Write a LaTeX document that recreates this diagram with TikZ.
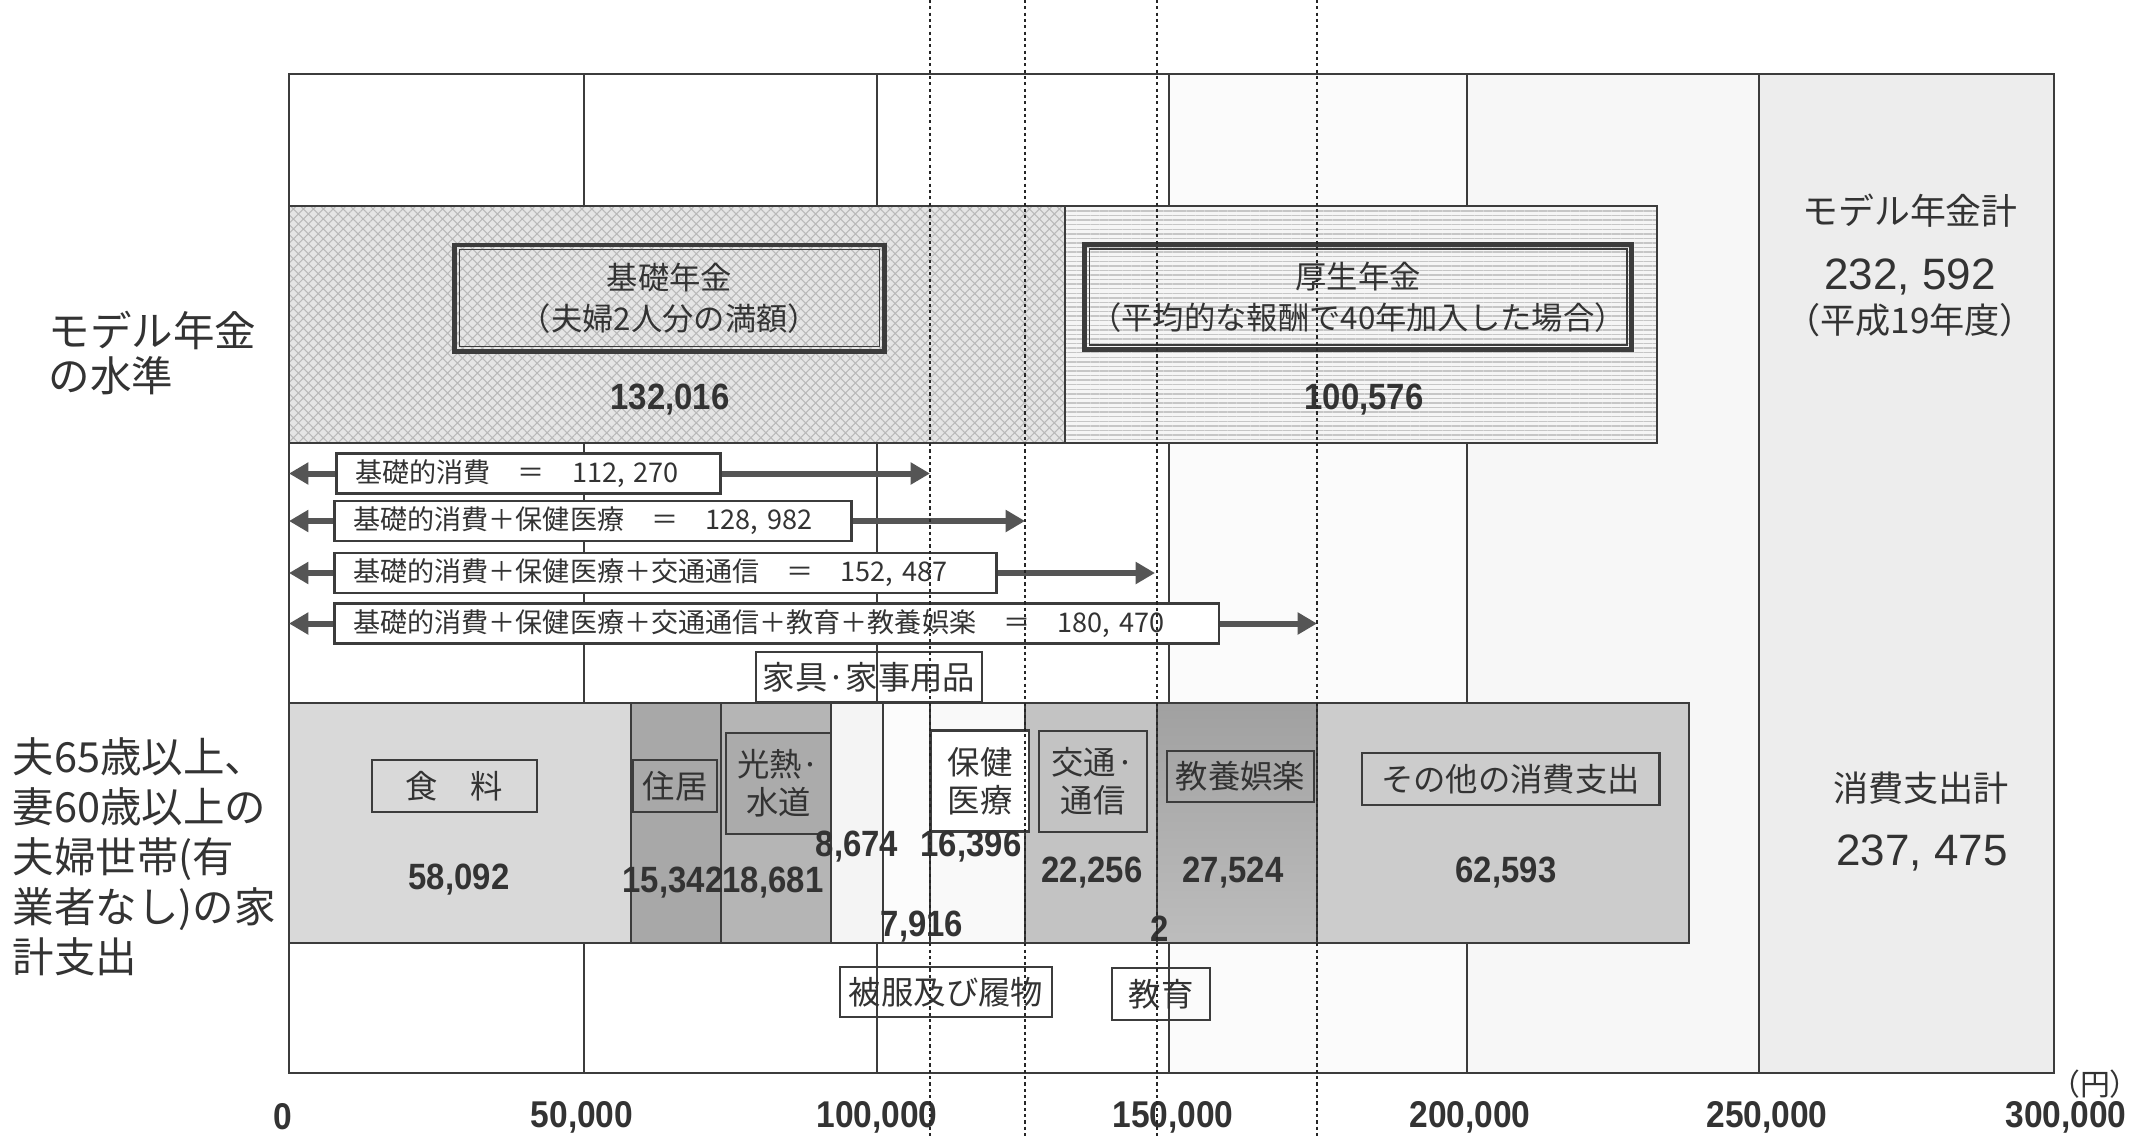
\documentclass[tikz,border=0pt]{standalone}
\usepackage{fontspec}
\setmainfont{Noto Sans CJK JP}
\newfontfamily\numfont[FakeStretch=0.9]{Liberation Sans}
\newfontfamily\latfont{Liberation Sans}
\usetikzlibrary{arrows.meta,patterns.meta}
\definecolor{ink}{HTML}{333333}
\definecolor{linec}{HTML}{3C3C3C}
\definecolor{arrc}{HTML}{555555}
\begin{document}
\begin{tikzpicture}[x=0.01cm,y=-0.01cm,
  inktxt/.style={text=ink,inner sep=0pt},
  lblbox/.style={draw=linec,line width=0.8pt,text=ink,align=center,inner sep=0pt,
     font=\fontsize{9.2}{10.8}\selectfont},
  arrbox/.style={draw=linec,line width=0.8pt,fill=white,text=ink,anchor=west,
     inner xsep=0.19cm,inner ysep=0pt,align=left,minimum height=0.4cm,
     font=\fontsize{7.7}{9}\selectfont},
  pbox/.style={draw=linec,line width=1.4pt,text=ink,align=center,inner sep=0pt,
     font=\fontsize{8.9}{11.6}\selectfont},
  numlbl/.style={text=ink,inner sep=0pt,font=\numfont\bfseries\fontsize{10.4}{12}\selectfont},
  axlbl/.style={text=ink,inner sep=0pt,font=\numfont\bfseries\fontsize{10.6}{12}\selectfont},
  conn/.style={draw=arrc,line width=1.7pt,-{Triangle[length=5.5pt,width=6pt]}},
  gridln/.style={draw=linec,line width=0.6pt},
  barbox/.style={draw=linec,line width=0.7pt},
  dotln/.style={draw=black!85,line width=0.45pt,dash pattern=on 0.9pt off 0.9pt},
  bigtxt/.style={text=ink,inner sep=0pt,align=left}
]
\useasboundingbox (0,0) rectangle (2146,1139);
\fill[white] (0,0) rectangle (2146,1139);
% column tints
\fill[gray!3] (1169,74) rectangle (1467,1073);
\fill[gray!6] (1467,74) rectangle (1759,1073);
\fill[gray!14] (1759,74) rectangle (2054,1073);
% grid and frame
\foreach \gx in {584,877,1169,1467,1759} \draw[gridln] (\gx,74) -- (\gx,1073);
\draw[linec,line width=0.8pt] (289,74) rectangle (2054,1073);

% pension band
\fill[gray!20] (289,206) rectangle (1065,443);
\fill[pattern={Hatch[angle=45,distance=2pt,line width=0.3pt]},pattern color=gray!55] (289,206) rectangle (1065,443);
\fill[gray!8] (1065,206) rectangle (1657,443);
\fill[pattern={Lines[angle=0,distance=1.3pt,line width=0.4pt]},pattern color=gray!45] (1065,206) rectangle (1657,443);
\draw[linec,line width=0.8pt] (289,206) rectangle (1657,443);
\draw[linec,line width=0.6pt] (1065,206) -- (1065,443);

\node[pbox,minimum width=4.29cm,minimum height=1.06cm] (kiso) at (669.5,298) {基礎年金\\（夫婦2人分の満額）};
\draw[linec,line width=0.5pt] ([shift={(7,-7)}]kiso.south west) rectangle ([shift={(-7,7)}]kiso.north east);
\node[pbox,minimum width=5.46cm,minimum height=1.05cm] (kosei) at (1358,297) {厚生年金\\（平均的な報酬で40年加入した場合）};
\draw[linec,line width=0.5pt] ([shift={(7,-7)}]kosei.south west) rectangle ([shift={(-7,7)}]kosei.north east);
\node[numlbl] (kisov) at (670,400) {132,016};
\node[numlbl] (koseiv) at (1364,400) {100,576};

% right column texts
\node[inktxt,font=\fontsize{10.2}{12}\selectfont] (mt) at (1910,211) {モデル年金計};
\node[inktxt,font=\latfont\fontsize{12.5}{14}\selectfont] (mv) at (1910,277) {232, 592};
\node[inktxt,font=\fontsize{10}{12}\selectfont] (my) at (1910,320) {（平成19年度）};
\node[inktxt,font=\fontsize{10}{12}\selectfont] (ct) at (1921,788) {消費支出計};
\node[inktxt,font=\latfont\fontsize{12.5}{14}\selectfont] (cv) at (1922,853) {237, 475};

% left labels
\node[bigtxt,anchor=west,font=\fontsize{11.8}{12.6}\selectfont] (plab) at (48,353) {モデル年金\\の水準};
\node[bigtxt,anchor=west,font=\fontsize{11.8}{14.2}\selectfont] (hlab) at (12,857) {夫65歳以上、\\妻60歳以上の\\夫婦世帯(有\\業者なし)の家\\計支出};

% consumption bars
\filldraw[barbox,fill=gray!30] (289,703) rectangle (631,943);
\filldraw[barbox,fill=gray!68] (631,703) rectangle (721,943);
\filldraw[barbox,fill=gray!58] (721,703) rectangle (831,943);
\filldraw[barbox,fill=gray!9] (831,703) rectangle (883,943);
\filldraw[barbox,fill=gray!2] (883,703) rectangle (930,943);
\filldraw[barbox,fill=gray!5] (930,703) rectangle (1025,943);
\filldraw[barbox,fill=gray!47] (1025,703) rectangle (1157,943);
\shade[top color=gray!74,bottom color=gray!52] (1157,703) rectangle (1317,943);
\draw[barbox] (1157,703) rectangle (1317,943);
\filldraw[barbox,fill=gray!40] (1317,703) rectangle (1689,943);

% bar label boxes
\node[lblbox,minimum width=1.65cm,minimum height=0.52cm] (food) at (454.5,786) {食　料};
\node[lblbox,minimum width=0.84cm,minimum height=0.52cm] (house) at (675,786) {住居};
\node[lblbox,fill=gray!66,minimum width=1.05cm,minimum height=1.01cm] (util) at (778.5,783.5) {光熱·\\水道};
\node[lblbox,minimum width=2.26cm,minimum height=0.50cm] (furn) at (869,677) {家具·家事用品};
\node[lblbox,minimum width=2.12cm,minimum height=0.50cm] (cloth) at (946,992) {被服及び履物};
\node[lblbox,fill=white,minimum width=0.98cm,minimum height=1.01cm] (med) at (980,781) {保健\\医療};
\node[lblbox,minimum width=1.08cm,minimum height=1.01cm] (trans) at (1093,781.5) {交通·\\通信};
\node[lblbox,minimum width=0.98cm,minimum height=0.52cm] (edu) at (1161,994) {教育};
\node[lblbox,minimum width=1.47cm,minimum height=0.51cm] (recr) at (1240.5,776.5) {教養娯楽};
\node[lblbox,minimum width=2.97cm,minimum height=0.52cm] (other) at (1510.5,779) {その他の消費支出};

% bar values
\node[numlbl] (v1) at (459,880) {58,092};
\node[numlbl] (v2) at (673,883) {15,342};
\node[numlbl] (v3) at (773,883) {18,681};
\node[numlbl] (v4) at (857,847) {8,674};
\node[numlbl] (v5) at (922,927) {7,916};
\node[numlbl] (v6) at (971,847) {16,396};
\node[numlbl] (v7) at (1092,873) {22,256};
\node[numlbl] (v8) at (1160,929) {2};
\node[numlbl] (v9) at (1233,873) {27,524};
\node[numlbl] (v10) at (1506,873) {62,593};

% arrow rows
\node[arrbox,text width=3.46cm] (a1) at (335,473.5) {基礎的消費　＝　112, 270};
\node[arrbox,text width=4.79cm] (a2) at (333,521) {基礎的消費＋保健医療　＝　128, 982};
\node[arrbox,text width=6.24cm] (a3) at (333,573) {基礎的消費＋保健医療＋交通通信　＝　152, 487};
\node[arrbox,text width=8.46cm] (a4) at (333,623.5) {基礎的消費＋保健医療＋交通通信＋教育＋教養娯楽　＝　180, 470};
\coordinate (l1) at (289,473.5);
\coordinate (l2) at (289,521);
\coordinate (l3) at (289,573);
\coordinate (l4) at (289,623.5);
\coordinate (r1) at (930,473.5);
\coordinate (r2) at (1025,521);
\coordinate (r3) at (1155,573);
\coordinate (r4) at (1317,623.5);
\draw[conn] (a1.west) -- (l1);
\draw[conn] (a2.west) -- (l2);
\draw[conn] (a3.west) -- (l3);
\draw[conn] (a4.west) -- (l4);
\draw[conn] (a1.east) -- (r1);
\draw[conn] (a2.east) -- (r2);
\draw[conn] (a3.east) -- (r3);
\draw[conn] (a4.east) -- (r4);

% axis labels
\node[axlbl] (x0) at (283,1117) {0};
\node[axlbl] (x1) at (582,1117) {50,000};
\node[axlbl] (x2) at (877,1117) {100,000};
\node[axlbl] (x3) at (1173,1117) {150,000};
\node[axlbl] (x4) at (1470,1117) {200,000};
\node[axlbl] (x5) at (1767,1117) {250,000};
\node[axlbl] (x6) at (2066,1117) {300,000};
\node[inktxt,font=\fontsize{8.5}{9}\selectfont] (yen) at (2095,1084) {（円）};

% dotted guide lines
\coordinate (d1t) at (930,0);   \coordinate (d1b) at (930,1139);
\coordinate (d2t) at (1025,0);  \coordinate (d2b) at (1025,1139);
\coordinate (d3t) at (1157,0);  \coordinate (d3b) at (1157,1139);
\coordinate (d4t) at (1317,0);  \coordinate (d4b) at (1317,1139);
\draw[dotln] (d1t) -- (d1b);
\draw[dotln] (d2t) -- (d2b);
\draw[dotln] (d3t) -- (d3b);
\draw[dotln] (d4t) -- (d4b);
\end{tikzpicture}
\end{document}
